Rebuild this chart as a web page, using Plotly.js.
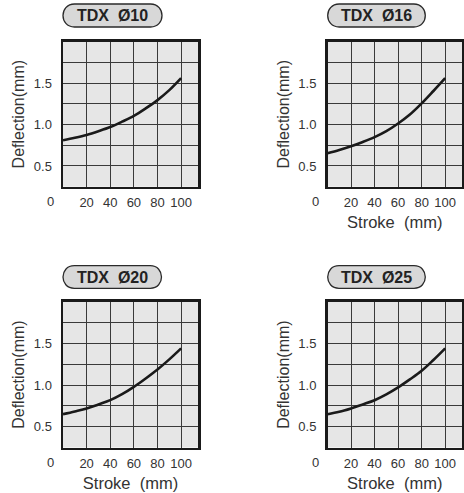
<!DOCTYPE html>
<html><head><meta charset="utf-8">
<script src="https://cdn.plot.ly/plotly-3.0.1.min.js"></script>
<style>html,body{margin:0;padding:0;background:#fff}</style>
</head>
<body>
<div id="chart" style="width:464px;height:493px"></div>
<script>
// ---- data ----
const panelTitles = ['TDX\u00a0\u00a0Ø10', 'TDX\u00a0\u00a0Ø16', 'TDX\u00a0\u00a0Ø20', 'TDX\u00a0\u00a0Ø25'];
const strokes = [0, 10, 20, 30, 40, 50, 60, 70, 80, 90, 100];
const defl10 = [0.81, 0.84, 0.875, 0.92, 0.97, 1.035, 1.105, 1.195, 1.295, 1.415, 1.56];
const defl16 = [0.653, 0.693, 0.738, 0.79, 0.848, 0.92, 1.012, 1.12, 1.255, 1.405, 1.56];
const defl20 = [0.65, 0.683, 0.719, 0.767, 0.818, 0.89, 0.978, 1.079, 1.187, 1.308, 1.44];
const defl25 = [0.65, 0.678, 0.719, 0.767, 0.818, 0.887, 0.971, 1.067, 1.17, 1.30, 1.44];
const xTickVals = [20, 40, 60, 80, 100];
const xTickText = ['20', '40', '60', '80', '100'];
const yTickVals = [0.5, 0.75, 1.0, 1.25, 1.5, 1.75];
const yTickText = ['0.5', '', '1.0', '', '1.5', ''];
const cornerLabel = '0';
const xTitleText = 'Stroke\u00a0 (mm)';
const yTitleText = 'Deflection(mm)';
const showXTitle = [false, true, true, true];

// ---- layout helpers ----
const W = 464, H = 493;
const FONT = '"Liberation Sans", Arial, Helvetica, sans-serif';
const series = [defl10, defl16, defl20, defl25];
const xDomains = [[63, 198], [327.5, 462], [63, 198], [327.5, 462]];
const yDomains = [[41.7, 186.7], [41.7, 186.7], [301.7, 447.5], [301.7, 447.5]];
const pills = [[63, 4, 162, 27], [327.7, 4, 425.3, 27], [63, 265.7, 161.5, 288.3], [327.7, 265.7, 425.3, 288.3]];

const px = x => x / W;
const py = y => 1 - y / H;

function pillPath(x0, y0, x1, y1) {
  const r = (y1 - y0) / 2, k = r * 4 / 3;
  const pts = [
    `M${px(x0 + r)},${py(y0)}`,
    `L${px(x1 - r)},${py(y0)}`,
    `C${px(x1 - r + k)},${py(y0)} ${px(x1 - r + k)},${py(y1)} ${px(x1 - r)},${py(y1)}`,
    `L${px(x0 + r)},${py(y1)}`,
    `C${px(x0 + r - k)},${py(y1)} ${px(x0 + r - k)},${py(y0)} ${px(x0 + r)},${py(y0)}`,
    'Z'
  ];
  return pts.join(' ');
}

const traces = [];
const layout = {
  width: W, height: H,
  margin: {l: 0, r: 0, t: 0, b: 0},
  paper_bgcolor: '#ffffff',
  plot_bgcolor: '#e6e6e6',
  showlegend: false,
  font: {family: FONT, size: 13, color: '#333'},
  shapes: [], annotations: []
};

series.forEach((ys, i) => {
  const n = i === 0 ? '' : String(i + 1);
  traces.push({
    x: strokes, y: ys, type: 'scatter', mode: 'lines',
    line: {color: '#1a1a1a', width: 2.6, shape: 'spline', smoothing: 1},
    xaxis: 'x' + n, yaxis: 'y' + n, hoverinfo: 'skip'
  });
  layout['xaxis' + n] = {
    domain: [px(xDomains[i][0]), px(xDomains[i][1])],
    anchor: 'y' + n,
    range: [0, 114.3],
    tickvals: xTickVals, ticktext: xTickText,
    ticks: '', showgrid: true, gridcolor: '#3a3a3a', gridwidth: 1,
    zeroline: false, showline: true, mirror: true, linecolor: '#1a1a1a', linewidth: 2.5,
    tickfont: {family: FONT, size: 13, color: '#333'},
    ticklabelstandoff: 2,
    fixedrange: true,
    title: showXTitle[i] ? {text: xTitleText, font: {family: FONT, size: 16.5, color: '#333'}, standoff: 8} : {text: ''}
  };
  layout['yaxis' + n] = {
    domain: [py(yDomains[i][1]), py(yDomains[i][0])],
    anchor: 'x' + n,
    range: [0.25, 2.0],
    tickvals: yTickVals, ticktext: yTickText,
    ticks: '', showgrid: true, gridcolor: '#3a3a3a', gridwidth: 1,
    zeroline: false, showline: true, mirror: true, linecolor: '#1a1a1a', linewidth: 2.5,
    tickfont: {family: FONT, size: 13, color: '#333'},
    ticklabelstandoff: 6,
    fixedrange: true,
    title: {text: yTitleText, font: {family: FONT, size: 16, color: '#333'}, standoff: 5}
  };
  const p = pills[i];
  layout.shapes.push({
    type: 'path', xref: 'paper', yref: 'paper', path: pillPath(p[0], p[1], p[2], p[3]),
    fillcolor: '#d8d8d8', line: {color: '#2a2a2a', width: 1.3}, layer: 'above'
  });
  layout.annotations.push({
    xref: 'paper', yref: 'paper', x: px((p[0] + p[2]) / 2), y: py((p[1] + p[3]) / 2),
    text: '<b>' + panelTitles[i] + '</b>', showarrow: false,
    xanchor: 'center', yanchor: 'middle',
    font: {family: FONT, size: 16, color: '#222'}
  });
  layout.annotations.push({
    xref: 'x' + n + ' domain', yref: 'y' + n + ' domain', x: 0, y: 0,
    xshift: -12.5, yshift: -14.5,
    text: cornerLabel, showarrow: false, xanchor: 'center', yanchor: 'middle',
    font: {family: FONT, size: 13, color: '#333'}
  });
});

Plotly.newPlot('chart', traces, layout, {staticPlot: true, displayModeBar: false});
</script>
</body></html>
